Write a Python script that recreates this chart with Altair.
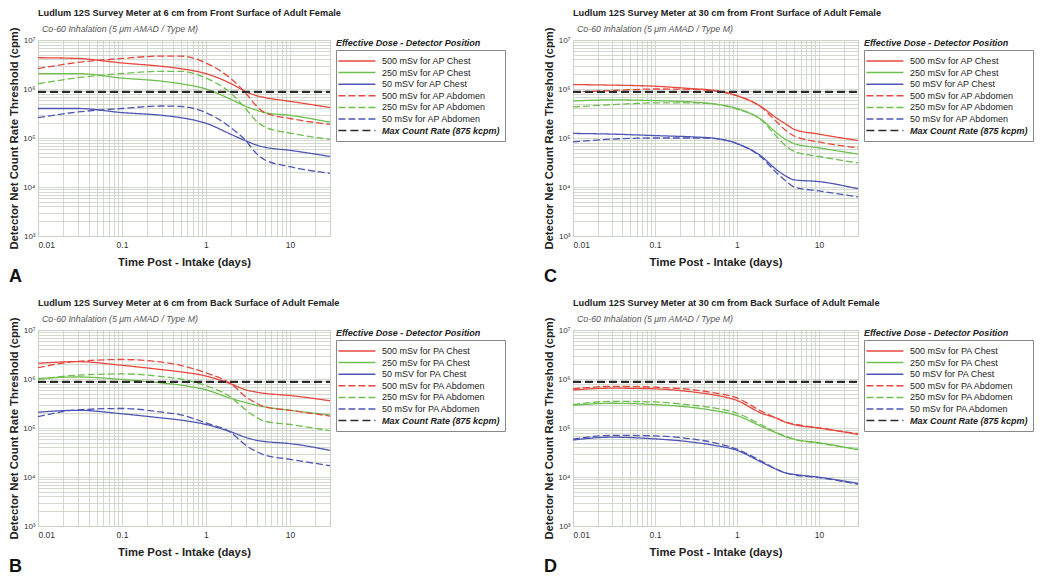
import altair as alt
import pandas as pd

# ---------------- data ----------------
times = [0.01, 0.03, 0.1, 0.3, 0.5, 1, 2, 3, 4, 5, 10, 30]
max_times = [0.01, 30]
max_rate = 875000

# Panel A: 6 cm, front surface (AP)
a_500_chest = [4.35e6, 4.2e6, 3.4e6, 2.9e6, 2.6e6, 2.06e6, 1.28e6, 8.8e5, 7.3e5, 6.7e5, 5.6e5, 4.2e5]
a_250_chest = [2.06e6, 2.06e6, 1.67e6, 1.44e6, 1.28e6, 1.0e6, 6.1e5, 4.4e5, 3.7e5, 3.3e5, 2.9e5, 2.1e5]
a_50_chest = [4.0e5, 4.0e5, 3.3e5, 2.9e5, 2.6e5, 2.0e5, 1.18e5, 8.7e4, 7.2e4, 6.5e4, 5.6e4, 4.2e4]
a_500_abd = [2.6e6, 3.5e6, 4.2e6, 4.7e6, 4.7e6, 3.4e6, 1.6e6, 8.1e5, 4.5e5, 3.3e5, 2.5e5, 1.9e5]
a_250_abd = [1.28e6, 1.7e6, 2.06e6, 2.3e6, 2.3e6, 1.67e6, 8.1e5, 3.9e5, 2.2e5, 1.7e5, 1.26e5, 9.4e4]
a_50_abd = [2.6e5, 3.4e5, 4.0e5, 4.5e5, 4.4e5, 3.3e5, 1.6e5, 8.7e4, 4.8e4, 3.6e4, 2.6e4, 1.9e4]

# Panel B: 6 cm, back surface (PA)
b_500_chest = [2.1e6, 2.26e6, 1.9e6, 1.55e6, 1.4e6, 1.15e6, 7.9e5, 6.0e5, 5.4e5, 5.1e5, 4.6e5, 3.6e5]
b_250_chest = [1.02e6, 1.1e6, 9.8e5, 8.3e5, 7.5e5, 6.0e5, 4.0e5, 3.3e5, 2.9e5, 2.7e5, 2.3e5, 1.85e5]
b_50_chest = [2.1e5, 2.3e5, 1.95e5, 1.6e5, 1.45e5, 1.18e5, 8.3e4, 6.4e4, 5.6e4, 5.3e4, 4.8e4, 3.5e4]
b_500_abd = [1.7e6, 2.3e6, 2.5e6, 2.2e6, 1.9e6, 1.33e6, 7.9e5, 4.3e5, 3.2e5, 2.7e5, 2.3e5, 1.75e5]
b_250_abd = [9.8e5, 1.2e6, 1.27e6, 1.12e6, 1.0e6, 7.3e5, 4.2e5, 2.3e5, 1.65e5, 1.38e5, 1.18e5, 8.8e4]
b_50_abd = [1.7e5, 2.35e5, 2.5e5, 2.1e5, 1.85e5, 1.27e5, 8.0e4, 4.4e4, 3.3e4, 2.8e4, 2.3e4, 1.7e4]

# Panel C: 30 cm, front surface (AP)
c_500_chest = [1.23e6, 1.2e6, 1.14e6, 1.01e6, 9.5e5, 7.3e5, 4.3e5, 2.6e5, 1.9e5, 1.5e5, 1.2e5, 8.9e4]
c_250_chest = [5.7e5, 6.0e5, 5.8e5, 5.4e5, 5.0e5, 4.0e5, 2.35e5, 1.3e5, 9.2e4, 7.7e4, 6.3e4, 4.7e4]
c_50_chest = [1.24e5, 1.2e5, 1.12e5, 1.05e5, 1.0e5, 7.7e4, 4.2e4, 2.3e4, 1.65e4, 1.4e4, 1.29e4, 9.2e3]
c_500_abd = [8.7e5, 9.3e5, 1.0e6, 9.8e5, 9.3e5, 7.3e5, 4.2e5, 2.2e5, 1.4e5, 1.1e5, 8.3e4, 6.3e4]
c_250_abd = [4.3e5, 4.8e5, 5.2e5, 5.2e5, 5.0e5, 3.9e5, 2.3e5, 1.1e5, 6.8e4, 5.3e4, 4.2e4, 3.1e4]
c_50_abd = [8.3e4, 9.5e4, 1.0e5, 1.0e5, 9.8e4, 7.7e4, 4.0e4, 2.0e4, 1.3e4, 1.0e4, 8.3e3, 6.3e3]

# Panel D: 30 cm, back surface (PA)
d_500_chest = [6.0e5, 6.5e5, 6.3e5, 5.4e5, 4.8e5, 3.65e5, 2.0e5, 1.6e5, 1.3e5, 1.17e5, 1.0e5, 7.4e4]
d_250_chest = [2.9e5, 3.2e5, 3.0e5, 2.6e5, 2.3e5, 1.8e5, 1.07e5, 8.0e4, 6.6e4, 5.9e4, 5.0e4, 3.6e4]
d_50_chest = [5.7e4, 6.5e4, 6.0e4, 5.1e4, 4.5e4, 3.5e4, 2.0e4, 1.45e4, 1.2e4, 1.13e4, 9.9e3, 7.4e3]
d_500_abd = [6.3e5, 7.1e5, 6.8e5, 6.0e5, 5.3e5, 4.1e5, 2.2e5, 1.6e5, 1.3e5, 1.2e5, 1.0e5, 7.7e4]
d_250_abd = [3.0e5, 3.5e5, 3.4e5, 2.9e5, 2.6e5, 2.0e5, 1.15e5, 8.2e4, 6.7e4, 5.9e4, 4.9e4, 3.7e4]
d_50_abd = [5.9e4, 7.1e4, 6.9e4, 5.9e4, 5.1e4, 3.7e4, 2.1e4, 1.45e4, 1.2e4, 1.1e4, 9.7e3, 7.1e3]

labels_ap = ["500 mSv for AP Chest", "250 mSv for AP Chest", "50 mSV for AP Chest",
             "500 mSv for AP Abdomen", "250 mSv for AP Abdomen", "50 mSv for AP Abdomen",
             "Max Count Rate (875 kcpm)"]
labels_pa = ["500 mSv for PA Chest", "250 mSv for PA Chest", "50 mSV for PA Chest",
             "500 mSv for PA Abdomen", "250 mSv for PA Abdomen", "50 mSv for PA Abdomen",
             "Max Count Rate (875 kcpm)"]

titles = {
    "A": "Ludlum 12S Survey Meter at 6 cm from Front Surface of Adult Female",
    "B": "Ludlum 12S Survey Meter at 6 cm from Back Surface of Adult Female",
    "C": "Ludlum 12S Survey Meter at 30 cm from Front Surface of Adult Female",
    "D": "Ludlum 12S Survey Meter at 30 cm from Back Surface of Adult Female",
}
subtitle = "Co-60 Inhalation (5 \u03bcm AMAD / Type M)"
legend_title = "Effective Dose - Detector Position"

colors = ["#e8473d", "#6dbf4e", "#4d56b5", "#e8473d", "#6dbf4e", "#4d56b5", "#2a2a2a"]
dashes = [[1, 0], [1, 0], [1, 0], [7, 3], [7, 3], [7, 3], [8, 4]]

x_grid = [round(m * 10 ** e, 6) for e in range(-2, 1) for m in range(1, 10)] + [10, 20, 30]
y_grid = [m * 10 ** e for e in range(3, 7) for m in range(1, 10)] + [10 ** 7]

FONT = "Liberation Sans"
H = 196
GRID = "#c9cfc3"


def make_panel(letter, series, labels, W):
    rows = []
    for lab, vals in zip(labels[:6], series):
        for t, v in zip(times, vals):
            rows.append({"t": t, "v": v, "s": lab})
    for t in max_times:
        rows.append({"t": t, "v": max_rate, "s": labels[6]})
    df = pd.DataFrame(rows)

    legend = alt.Legend(
        title=None, orient="none", legendX=W + 6, legendY=10,
        symbolType="M-3.7,0H3.7", symbolSize=100, symbolStrokeWidth=1.5, symbolOffset=9.9,
        labelFont=FONT, labelFontSize=9, labelColor="#222", labelLimit=220,
        labelOffset=19.1, rowPadding=0.6, padding=5,
        strokeColor="#888", fillColor="white",
        labelFontWeight=alt.ExprRef(expr="datum.value == 'Max Count Rate (875 kcpm)' ? 'bold' : 'normal'"),
        labelFontStyle=alt.ExprRef(expr="datum.value == 'Max Count Rate (875 kcpm)' ? 'italic' : 'normal'"),
    )

    xaxis = alt.Axis(
        values=x_grid, grid=True, gridColor=GRID, gridWidth=0.8, ticks=False, domain=False,
        labelExpr="datum.value == 0.01 ? '0.01' : datum.value == 0.1 ? '0.1' : datum.value == 1 ? '1' : datum.value == 10 ? '10' : ''",
        labelOverlap=False, labelFont=FONT, labelFontSize=8.5, labelColor="#333", labelPadding=4,
        title="Time Post - Intake (days)", titleFont=FONT, titleFontSize=11.3,
        titleFontWeight="bold", titleColor="#222", titlePadding=8,
    )
    yaxis = alt.Axis(
        values=y_grid, grid=True, gridColor=GRID, gridWidth=0.8, ticks=False, domain=False,
        labelExpr="datum.value == 1000 ? '10\u00b3' : datum.value == 10000 ? '10\u2074' : datum.value == 100000 ? '10\u2075' : datum.value == 1000000 ? '10\u2076' : datum.value == 10000000 ? '10\u2077' : ''",
        labelOverlap=False, labelFont=FONT, labelFontSize=8, labelColor="#333", labelPadding=3,
        title="Detector Net Count Rate Threshold (cpm)", titleFont=FONT, titleFontSize=11.3,
        titleFontWeight="bold", titleColor="#222", titlePadding=3,
    )

    lines = alt.Chart(df).mark_line(interpolate="monotone", clip=True).encode(
        x=alt.X("t:Q", scale=alt.Scale(type="log", domain=[0.01, 30], nice=False), axis=xaxis),
        y=alt.Y("v:Q", scale=alt.Scale(type="log", domain=[1e3, 1e7], nice=False), axis=yaxis),
        color=alt.Color("s:N", scale=alt.Scale(domain=labels, range=colors), legend=legend),
        strokeDash=alt.StrokeDash("s:N", scale=alt.Scale(domain=labels, range=dashes), legend=legend),
        strokeWidth=alt.condition(alt.datum.s == labels[6], alt.value(2.2), alt.value(1.3)),
    )

    lab_df = pd.DataFrame({"txt": [legend_title], "letter": [letter],
                           "title": [titles[letter]], "sub": [subtitle]})
    title_mark = alt.Chart(lab_df).mark_text(
        align="left", baseline="middle", font=FONT, fontSize=9.2, fontWeight="bold", color="#222",
    ).encode(x=alt.value(0), y=alt.value(-27), text="title:N")
    sub_mark = alt.Chart(lab_df).mark_text(
        align="left", baseline="middle", font=FONT, fontSize=8.8, fontStyle="italic", color="#555",
    ).encode(x=alt.value(4), y=alt.value(-11.5), text="sub:N")
    leg_title = alt.Chart(lab_df).mark_text(
        align="left", baseline="middle", font=FONT, fontSize=9,
        fontWeight="bold", fontStyle="italic", color="#222",
    ).encode(x=alt.value(W + 6), y=alt.value(3), text="txt:N")
    letter_mark = alt.Chart(lab_df).mark_text(
        align="left", baseline="middle", font=FONT, fontSize=18, fontWeight="bold", color="#111",
    ).encode(x=alt.value(-29), y=alt.value(H + 41), text="letter:N")

    return alt.layer(lines, title_mark, sub_mark, leg_title, letter_mark).properties(
        width=W, height=H,
    ).resolve_scale(color="independent", strokeDash="independent")


W1, W2 = 292, 285
pA = make_panel("A", [a_500_chest, a_250_chest, a_50_chest, a_500_abd, a_250_abd, a_50_abd], labels_ap, W1)
pB = make_panel("B", [b_500_chest, b_250_chest, b_50_chest, b_500_abd, b_250_abd, b_50_abd], labels_pa, W1)
pC = make_panel("C", [c_500_chest, c_250_chest, c_50_chest, c_500_abd, c_250_abd, c_50_abd], labels_ap, W2)
pD = make_panel("D", [d_500_chest, d_250_chest, d_50_chest, d_500_abd, d_250_abd, d_50_abd], labels_pa, W2)

top = alt.hconcat(pA, pC, spacing=37).resolve_scale(color="independent", strokeDash="independent")
bot = alt.hconcat(pB, pD, spacing=37).resolve_scale(color="independent", strokeDash="independent")

chart = (
    alt.vconcat(top, bot, spacing=11)
    .resolve_scale(color="independent", strokeDash="independent")
    .configure_view(stroke="#808080", strokeWidth=1.2)
    .configure(font=FONT, background="white")
    .properties(padding=0)
)

chart.save("out.html", embed_options={"renderer": "svg", "actions": False})
